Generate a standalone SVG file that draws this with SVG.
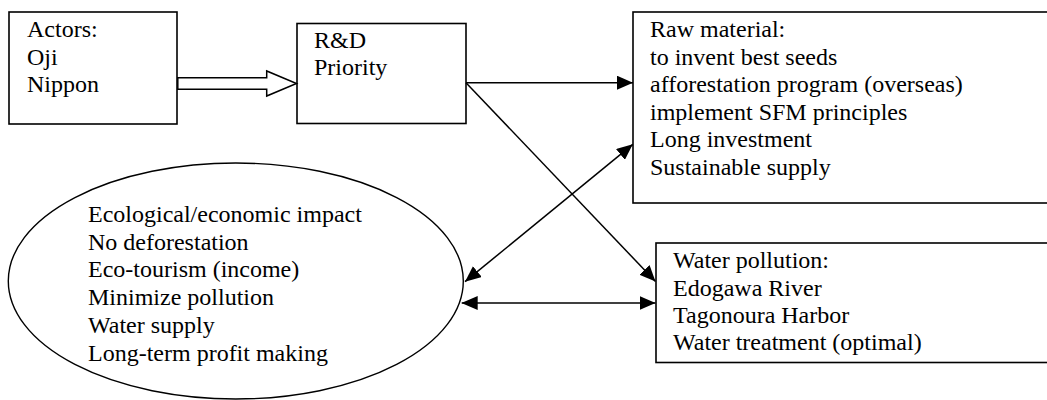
<svg xmlns="http://www.w3.org/2000/svg" width="1047" height="400" viewBox="0 0 1047 400">
<style>
.box{fill:#fff;stroke:#000;stroke-width:1.6}
.ell{fill:#fff;stroke:#000;stroke-width:1.4}
.t{font-family:"Liberation Serif","Times New Roman",serif;font-size:24px;fill:#000}
.ln{fill:none;stroke:#000;stroke-width:1.5}
.hollow{fill:#fff;stroke:#000;stroke-width:1.5;stroke-linejoin:miter}
</style>
<defs>
<marker id="ah" markerUnits="userSpaceOnUse" viewBox="0 0 16 14" refX="16" refY="7" markerWidth="16" markerHeight="14" orient="auto-start-reverse">
<path d="M0,0 L16,7 L0,14 z" fill="#000"/>
</marker>
</defs>
<rect width="1047" height="400" fill="#fff"/>
<g id="actors">
<rect class="box" x="9" y="12" width="168" height="112"/>
<text class="t" x="27" y="37">Actors:</text>
<text class="t" x="27" y="64.5">Oji</text>
<text class="t" x="27" y="92">Nippon</text>
</g>
<g id="rnd">
<rect class="box" x="297" y="23.5" width="169" height="100"/>
<text class="t" x="314" y="47.5">R&amp;D</text>
<text class="t" x="314" y="75">Priority</text>
</g>
<g id="raw">
<rect class="box" x="633" y="12" width="420" height="191"/>
<text class="t" x="650" y="37.3">Raw material:</text>
<text class="t" x="650" y="64.8">to invent best seeds</text>
<text class="t" x="650" y="92.3">afforestation program (overseas)</text>
<text class="t" x="650" y="119.8">implement SFM principles</text>
<text class="t" x="650" y="147.3">Long investment</text>
<text class="t" x="650" y="174.8">Sustainable supply</text>
</g>
<g id="water">
<rect class="box" x="656" y="243" width="400" height="119.5"/>
<text class="t" x="673" y="268.3">Water pollution:</text>
<text class="t" x="673" y="295.6">Edogawa River</text>
<text class="t" x="673" y="322.9">Tagonoura Harbor</text>
<text class="t" x="673" y="350.2">Water treatment (optimal)</text>
</g>
<g id="impact">
<ellipse class="ell" cx="235.8" cy="281" rx="227.5" ry="118"/>
<text class="t" x="88" y="221.7">Ecological/economic impact</text>
<text class="t" x="88" y="249.5">No deforestation</text>
<text class="t" x="88" y="277.3">Eco-tourism (income)</text>
<text class="t" x="88" y="305.1">Minimize pollution</text>
<text class="t" x="88" y="332.9">Water supply</text>
<text class="t" x="88" y="360.7">Long-term profit making</text>
</g>
<g id="connectors">
<polygon class="hollow" points="177.8,77.7 266.7,77.7 266.7,71 296.5,83.5 266.7,96 266.7,89.3 177.8,89.3"/>
<line class="ln" x1="466" y1="82.7" x2="633" y2="82.7" marker-end="url(#ah)"/>
<line class="ln" x1="466" y1="82.7" x2="655.5" y2="281.5" marker-end="url(#ah)"/>
<line class="ln" x1="465" y1="281.7" x2="632.8" y2="144.3" marker-start="url(#ah)" marker-end="url(#ah)"/>
<line class="ln" x1="461.7" y1="303" x2="655.5" y2="303" marker-start="url(#ah)" marker-end="url(#ah)"/>
</g>
</svg>
